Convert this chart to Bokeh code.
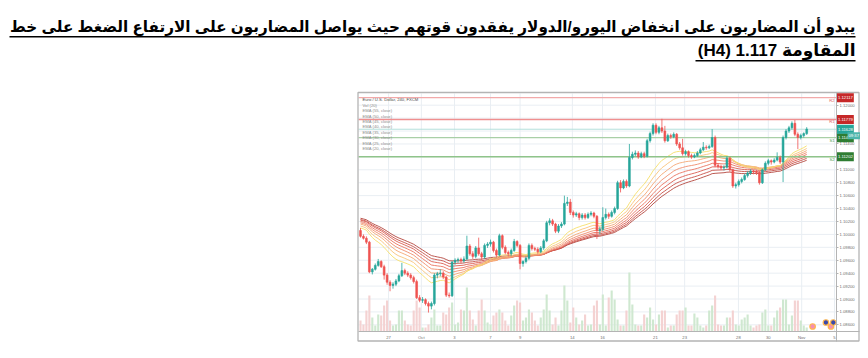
from bokeh.plotting import figure
from bokeh.models import Range1d, FixedTicker, Label
from bokeh.embed import file_html
from bokeh.resources import INLINE
from bokeh.core.properties import value

# ---------------- data ----------------
title_line1 = "يبدو أن المضاربون على انخفاض اليورو/الدولار يفقدون قوتهم حيث يواصل المضاربون على الارتفاع الضغط على خط"
title_line2 = "المقاومة 1.117 (H4)"

legend_texts = ["Euro / U.S. Dollar, 240, FXCM", "Vol (20)",
                "EMA (55, close)", "EMA (50, close)", "EMA (45, close)", "EMA (40, close)",
                "EMA (35, close)", "EMA (30, close)", "EMA (25, close)", "EMA (20, close)"]

opens = [1.1006,1.0997,1.0994,1.0988,1.0942,1.0946,1.0952,1.0958,1.0950,1.0937,
         1.0926,1.0921,1.0923,1.0928,1.0936,1.0944,1.0940,1.0937,1.0933,1.0927,
         1.0902,1.0898,1.0899,1.0893,1.0889,1.0893,1.0937,1.0939,1.0940,1.0934,
         1.0906,1.0905,1.0957,1.0960,1.0961,1.0959,1.0962,1.0982,1.0970,1.0966,
         1.0979,1.0970,1.0965,1.0983,1.0985,1.0988,1.0975,1.0968,1.0998,1.0980,
         1.0972,1.0970,1.0975,1.0989,1.0983,1.0955,1.0958,1.0963,1.0983,1.0978,
         1.0977,1.0973,1.0979,1.0990,1.1018,1.1021,1.1016,1.1005,1.1013,1.1016,
         1.1048,1.1050,1.1034,1.1030,1.1032,1.1026,1.1030,1.1026,1.1031,1.1033,
         1.1028,1.1006,1.1008,1.1026,1.1031,1.1028,1.1034,1.1040,1.1080,1.1072,
         1.1082,1.1075,1.1119,1.1124,1.1126,1.1120,1.1125,1.1121,1.1145,1.1156,
         1.1169,1.1158,1.1165,1.1160,1.1145,1.1153,1.1151,1.1155,1.1140,1.1134,
         1.1125,1.1128,1.1122,1.1120,1.1122,1.1126,1.1131,1.1135,1.1134,1.1136,
         1.1150,1.1107,1.1105,1.1103,1.1104,1.1118,1.1100,1.1075,1.1077,1.1082,
         1.1085,1.1091,1.1095,1.1098,1.1097,1.1096,1.1080,1.1100,1.1110,1.1114,
         1.1112,1.1115,1.1119,1.1112,1.1150,1.1160,1.1165,1.1172,1.1155,1.1150,
         1.1153,1.1156]
highs = [1.1010,1.1000,1.0997,1.0990,1.0948,1.0955,1.0962,1.0960,1.0953,1.0940,
         1.0929,1.0926,1.0931,1.0939,1.0956,1.0947,1.0943,1.0940,1.0936,1.0930,
         1.0906,1.0903,1.0901,1.0896,1.0896,1.0940,1.0942,1.0946,1.0943,1.0936,
         1.0910,1.0959,1.0963,1.0964,1.0964,1.0966,1.0998,1.0985,1.0974,1.0982,
         1.0995,1.0973,1.0986,1.0988,1.0992,1.0990,1.0978,1.1001,1.1000,1.0983,
         1.0975,1.0978,1.0993,1.0991,1.0985,1.0960,1.0966,1.0986,1.0986,1.0981,
         1.0980,1.0982,1.0993,1.1021,1.1025,1.1024,1.1018,1.1016,1.1019,1.1060,
         1.1058,1.1055,1.1037,1.1035,1.1034,1.1033,1.1033,1.1034,1.1036,1.1035,
         1.1030,1.1012,1.1042,1.1040,1.1034,1.1037,1.1043,1.1083,1.1084,1.1085,
         1.1085,1.1140,1.1128,1.1130,1.1129,1.1128,1.1128,1.1148,1.1159,1.1172,
         1.1172,1.1168,1.1179,1.1168,1.1156,1.1156,1.1158,1.1157,1.1143,1.1148,
         1.1131,1.1130,1.1125,1.1125,1.1129,1.1134,1.1143,1.1138,1.1139,1.1163,
         1.1153,1.1110,1.1108,1.1107,1.1121,1.1120,1.1102,1.1080,1.1085,1.1088,
         1.1094,1.1098,1.1101,1.1100,1.1100,1.1098,1.1102,1.1113,1.1117,1.1116,
         1.1118,1.1127,1.1122,1.1153,1.1163,1.1168,1.1175,1.1177,1.1158,1.1156,
         1.1158,1.1166]
lows = [1.0995,1.0992,1.0985,1.0940,1.0938,1.0944,1.0950,1.0948,1.0930,1.0922,
        1.0912,1.0916,1.0920,1.0926,1.0934,1.0937,1.0934,1.0930,1.0924,1.0900,
        1.0895,1.0894,1.0890,1.0879,1.0884,1.0890,1.0932,1.0935,1.0931,1.0903,
        1.0902,1.0903,1.0953,1.0956,1.0955,1.0956,1.0960,1.0967,1.0962,1.0963,
        1.0967,1.0960,1.0962,1.0979,1.0981,1.0972,1.0964,1.0966,1.0977,1.0969,
        1.0966,1.0967,1.0973,1.0980,1.0946,1.0950,1.0955,1.0960,1.0975,1.0974,
        1.0970,1.0971,1.0976,1.0988,1.1014,1.1013,1.1002,1.1002,1.1010,1.1014,
        1.1044,1.1030,1.1026,1.1027,1.1022,1.1023,1.1023,1.1024,1.1028,1.1025,
        1.0993,1.1000,1.1005,1.1023,1.1024,1.1026,1.1031,1.1038,1.1065,1.1070,
        1.1072,1.1073,1.1116,1.1121,1.1117,1.1118,1.1118,1.1119,1.1142,1.1153,
        1.1155,1.1155,1.1157,1.1142,1.1143,1.1148,1.1149,1.1137,1.1131,1.1122,
        1.1122,1.1119,1.1117,1.1118,1.1120,1.1124,1.1129,1.1131,1.1132,1.1134,
        1.1104,1.1102,1.1100,1.1099,1.1102,1.1097,1.1072,1.1071,1.1074,1.1079,
        1.1083,1.1088,1.1092,1.1093,1.1092,1.1077,1.1078,1.1098,1.1107,1.1108,
        1.1110,1.1113,1.1109,1.1081,1.1147,1.1157,1.1162,1.1152,1.1132,1.1147,
        1.1150,1.1154]
closes = [1.0997,1.0994,1.0988,1.0942,1.0946,1.0952,1.0958,1.0950,1.0937,1.0926,
          1.0921,1.0923,1.0928,1.0936,1.0944,1.0940,1.0937,1.0933,1.0927,1.0902,
          1.0898,1.0899,1.0893,1.0889,1.0893,1.0937,1.0939,1.0940,1.0934,1.0906,
          1.0905,1.0957,1.0960,1.0961,1.0959,1.0962,1.0982,1.0970,1.0966,1.0979,
          1.0970,1.0965,1.0983,1.0985,1.0988,1.0975,1.0968,1.0998,1.0980,1.0972,
          1.0970,1.0975,1.0989,1.0983,1.0955,1.0958,1.0963,1.0983,1.0978,1.0977,
          1.0973,1.0979,1.0990,1.1018,1.1021,1.1016,1.1005,1.1013,1.1016,1.1048,
          1.1050,1.1034,1.1030,1.1032,1.1026,1.1030,1.1026,1.1031,1.1033,1.1028,
          1.1006,1.1008,1.1026,1.1031,1.1028,1.1034,1.1040,1.1080,1.1072,1.1082,
          1.1075,1.1119,1.1124,1.1126,1.1120,1.1125,1.1121,1.1145,1.1156,1.1169,
          1.1158,1.1165,1.1160,1.1145,1.1153,1.1151,1.1155,1.1140,1.1134,1.1125,
          1.1128,1.1122,1.1120,1.1122,1.1126,1.1131,1.1135,1.1134,1.1136,1.1150,
          1.1107,1.1105,1.1103,1.1104,1.1118,1.1100,1.1075,1.1077,1.1082,1.1085,
          1.1091,1.1095,1.1098,1.1097,1.1096,1.1080,1.1100,1.1110,1.1114,1.1112,
          1.1115,1.1119,1.1112,1.1150,1.1160,1.1165,1.1172,1.1155,1.1150,1.1153,
          1.1156,1.1163]
volume = [11, 7, 21, 36, 14, 6, 17, 16, 26, 31,
          11, 6, 7, 21, 21, 11, 7, 6, 21, 31,
          24, 4, 4, 7, 14, 22, 6, 6, 19, 17,
          24, 29, 7, 9, 22, 21, 44, 21, 12, 6,
          21, 32, 21, 9, 7, 16, 19, 22, 19, 11,
          6, 16, 26, 31, 29, 11, 14, 22, 19, 11,
          6, 14, 22, 37, 21, 7, 14, 6, 21, 46,
          31, 9, 24, 14, 7, 11, 17, 6, 7, 26,
          31, 7, 37, 6, 34, 41, 32, 12, 6, 6,
          21, 59, 27, 7, 6, 6, 17, 14, 24, 12,
          7, 17, 21, 21, 4, 6, 6, 17, 21, 21,
          24, 6, 6, 18, 14, 6, 4, 6, 21, 26,
          36, 7, 6, 6, 14, 14, 21, 7, 6, 12,
          14, 17, 6, 4, 6, 7, 19, 22, 6, 6,
          14, 21, 24, 32, 32, 7, 16, 31, 31, 11,
          6, 4]

ema_periods = [55, 50, 45, 40, 35, 30, 25, 20]
ema_start = [1.1025, 1.1023, 1.1022, 1.1020, 1.1018, 1.1016, 1.1013, 1.1010]   # values at first candle

date_tick_pos = [9.5, 20.6, 31.8, 44.0, 54.0, 71.7, 81.9, 99.8, 109.7, 127.9, 138.0, 149.3, 160.4]
date_tick_labels = ["27", "Oct", "3", "7", "9", "14", "16", "21", "23", "28", "30", "Nov", "5"]

price_ticks = [1.086, 1.088, 1.090, 1.092, 1.094, 1.096, 1.098, 1.100, 1.102, 1.104,
               1.106, 1.108, 1.110, 1.112, 1.114, 1.116, 1.118, 1.120]
hidden_price_ticks = [1.112, 1.116, 1.118]

level_names = ["R2", "R1", "S1", "S2"]
level_values = [1.12117, 1.11779, 1.11498, 1.11202]
last_price = 1.11628
countdown = "09:37"

event_pos = [153.0, 157.5, 159.2, 160.0]
event_kind = ["flag", "news", "flag", "news"]

# ---------------- styling / geometry ----------------
FONT = "Liberation Sans"
TITLE_FONT = "Liberation Sans, DejaVu Sans"
UP, DOWN = "#26a69a", "#ef5350"
ema_colors = ["#b5473f", "#c95148", "#dc5e52", "#ea735f", "#f08c6c", "#f5a774", "#f8c47a", "#f6df6a"]
level_line_colors = ["#f2a9a9", "#f08f8f", "#a9cfa6", "#8fc48a"]
level_box_colors = ["#c62828", "#c62828", "#2e7d32", "#2e7d32"]
level_text_colors = ["#e06666", "#e06666", "#4f9a4f", "#4f9a4f"]
GRID = "#e9eef3"
EDGE = "#b4b4b4"

# page-pixel <-> data helpers (page x of first candle, candle spacing; price calibration)
X0_PX, DX_PX = 360.0, 2.955
def xpx(px):
    return (px - X0_PX) / DX_PX
P_REF, Y_REF, PX_PER_UNIT = 1.12, 104.7, 6460.0
def ypx(py):
    return P_REF - (py - Y_REF) / PX_PER_UNIT

W, H = 866, 352
CL, CR, CT, CB = 358, 836, 93, 331          # chart plot area (page px)

# ---------------- figure (frame covers the whole page) ----------------
p = figure(frame_width=W, frame_height=H, min_border=0,
           x_range=Range1d(xpx(0), xpx(W)), y_range=Range1d(ypx(H), ypx(0)),
           toolbar_location=None, output_backend="svg",
           y_axis_location="right", x_axis_location="below")
p.background_fill_color = "#ffffff"
p.border_fill_color = "#ffffff"
p.outline_line_color = None
p.xgrid.visible = False
p.ygrid.visible = False

# axes placed on the chart box edges
p.yaxis.fixed_location = xpx(CR)
p.yaxis.bounds = (ypx(341), ypx(92))
p.yaxis.ticker = FixedTicker(ticks=price_ticks)
p.yaxis.major_label_overrides = {t: ("" if t in hidden_price_ticks else f"{t:.5f}") for t in price_ticks}
p.xaxis.fixed_location = ypx(CB)
p.xaxis.bounds = (xpx(CL), xpx(858.5))
p.xaxis.ticker = FixedTicker(ticks=date_tick_pos)
p.xaxis.major_label_overrides = dict(zip(date_tick_pos, date_tick_labels))
for ax in (p.xaxis, p.yaxis):
    ax.major_label_text_font = FONT
    ax.major_label_text_font_size = "4.2px"
    ax.major_label_text_color = "#6f6f6f"
    ax.axis_line_color = EDGE
    ax.axis_line_width = 1
    ax.major_tick_line_color = EDGE
    ax.major_tick_in = 0
    ax.minor_tick_line_color = None
p.yaxis.major_tick_out = 2
p.yaxis.major_label_standoff = 1
p.xaxis.major_tick_out = 0
p.xaxis.major_label_standoff = 3

# grid lines inside the chart box
p.segment(x0=date_tick_pos, y0=ypx(CB), x1=date_tick_pos, y1=ypx(CT), line_color=GRID, line_width=1)
p.segment(x0=xpx(CL), y0=price_ticks, x1=xpx(CR), y1=price_ticks, line_color=GRID, line_width=1)

idx = list(range(len(closes)))
colors = [UP if c >= o else DOWN for o, c in zip(opens, closes)]
vol_colors = ["#cfe8d0" if c >= o else "#f4d2d2" for o, c in zip(opens, closes)]

# volume overlay (1 unit = 1 px, zero on the chart bottom)
p.extra_y_ranges = {"vol": Range1d(-(H - CB), CB)}
p.vbar(x=idx, top=volume, bottom=0, width=0.72, y_range_name="vol",
       fill_color=vol_colors, line_color=None)

# EMA ribbon
for period, start, col in zip(ema_periods, ema_start, ema_colors):
    k = 2.0 / (period + 1)
    ema = [start]
    for c in closes[1:]:
        ema.append(ema[-1] + k * (c - ema[-1]))
    p.line(idx, ema, line_color=col, line_width=1, line_alpha=0.9)

# pivot levels and last price line
p.segment(x0=xpx(CL), y0=level_values, x1=xpx(CR), y1=level_values,
          line_color=level_line_colors, line_width=1.3)
p.segment(x0=[xpx(CL)], y0=[last_price], x1=[xpx(CR)], y1=[last_price],
          line_color="#b3e0dc", line_width=1)

# candles
p.segment(x0=idx, y0=highs, x1=idx, y1=lows, line_color=colors, line_width=0.8)
p.vbar(x=idx, top=[max(o, c) for o, c in zip(opens, closes)],
       bottom=[min(o, c) for o, c in zip(opens, closes)], width=0.62,
       fill_color=colors, line_color=colors, line_width=0.6)

# event markers at the bottom right
ev_fill = ["#f48fb1" if k == "flag" else "#3949ab" for k in event_kind]
ev_y = [ypx(326) if k == "flag" else ypx(322) for k in event_kind]
p.scatter(x=event_pos, y=ev_y, size=5.5, fill_color=ev_fill, line_color="#ffb74d", line_width=1.2)

# outer frame of the chart picture
p.quad(left=[xpx(357.5)], right=[xpx(858.5)], bottom=[ypx(340.5)], top=[ypx(92)],
       fill_color=None, line_color=EDGE, line_width=1.3)

# level tags
for name, lv, tc, bc in zip(level_names, level_values, level_text_colors, level_box_colors):
    p.add_layout(Label(x=xpx(834), y=lv, y_offset=-2.5, text=name, text_font=FONT,
                       text_font_size="4.2px", text_color=tc, text_align="right",
                       text_baseline="middle"))
    p.add_layout(Label(x=xpx(836.5), y=lv, text=f"{lv:.5f}", text_font=FONT,
                       text_font_size="4.2px", text_color="#ffffff", text_baseline="middle",
                       background_fill_color=bc, padding=(1, 3)))
p.add_layout(Label(x=xpx(836.5), y=last_price, text=f"{last_price:.5f}", text_font=FONT,
                   text_font_size="4.2px", text_color="#ffffff", text_baseline="middle",
                   background_fill_color="#26a69a", padding=(1, 3)))
p.add_layout(Label(x=xpx(847), y=last_price, y_offset=-6.5, text=countdown, text_font=FONT,
                   text_font_size="4.2px", text_color="#ffffff", text_baseline="middle",
                   background_fill_color="#4db6ac", padding=(1, 1)))

# legend block (top-left of chart)
for k, t in enumerate(legend_texts):
    p.add_layout(Label(x=xpx(362), y=ypx(99.3 + 5.4 * k), text=t, text_font=FONT,
                       text_font_size="4.2px", text_baseline="middle",
                       text_color="#4a4a4a" if k == 0 else "#8c8c8c"))

# title (right aligned, RTL, underlined): (text, centre y, font size, underline start, underline y)
RLE, PDF = "\u202b", "\u202c"
title_rows = [(title_line1, 25.5, "15.2px", 9, 36.3), (title_line2, 49.5, "17px", 695, 60.3)]
for txt, cy, size, u0, uy in title_rows:
    p.text(x=[xpx(855)], y=[ypx(cy)], text=[RLE + txt + PDF], text_font=value(TITLE_FONT),
           text_font_style="bold", text_font_size=size, text_color="#000000",
           text_align="right", text_baseline="middle")
p.segment(x0=[xpx(r[3]) for r in title_rows], y0=[ypx(r[4]) for r in title_rows],
          x1=[xpx(855)] * 2, y1=[ypx(r[4]) for r in title_rows],
          line_color="#000000", line_width=1.6)

open("out.html", "w").write(file_html(p, INLINE))
